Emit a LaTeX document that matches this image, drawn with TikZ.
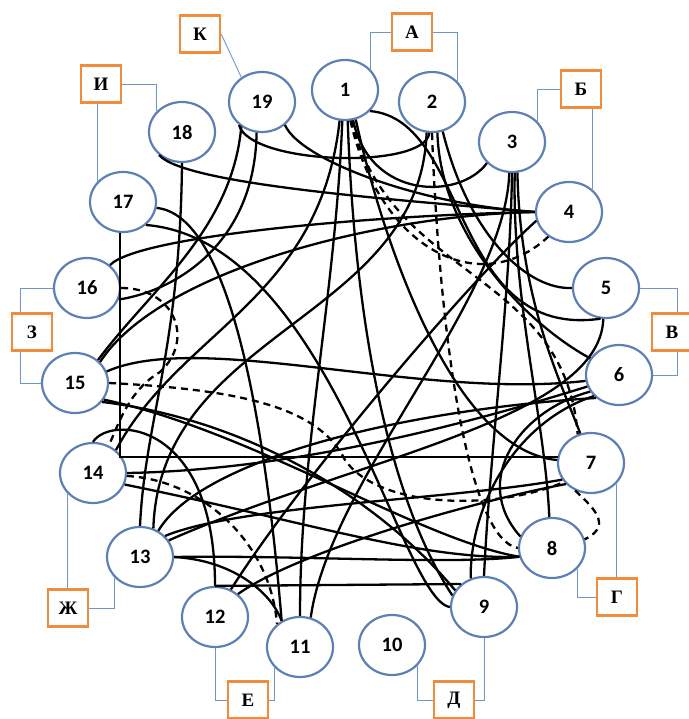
\documentclass[tikz,border=0pt]{standalone}
\usepackage{fontspec}
\setmainfont{Liberation Serif}
\newfontfamily\numfont{Carlito}
\usetikzlibrary{shapes.geometric}
\definecolor{ringblue}{RGB}{92,128,180}
\definecolor{tieblue}{RGB}{110,150,200}
\definecolor{boxorange}{RGB}{240,140,60}
\begin{document}
\begin{tikzpicture}[x=1pt,y=1pt,
        vert/.style={ellipse,draw=ringblue,line width=2.2pt,fill=white,minimum width=66pt,minimum height=60pt,inner sep=0pt,font=\numfont\bfseries\fontsize{20.5}{20.5}\selectfont},
        letter/.style={draw=boxorange,line width=2.4pt,fill=white,minimum width=40pt,minimum height=37pt,inner sep=0pt,font=\bfseries\fontsize{19}{19}\selectfont},
        tie/.style={draw=tieblue,line width=0.9pt},
        link/.style={line width=2.3pt},
        dlink/.style={line width=2.3pt,dash pattern=on 7pt off 5pt}]
                \useasboundingbox (0,0) rectangle (688,-719);
                \node[vert] (v1) at (345,-90) {1};
                \node[vert] (v2) at (432,-102) {2};
                \node[vert] (v3) at (512,-142) {3};
                \node[vert] (v4) at (569,-212) {4};
                \node[vert] (v5) at (606,-288) {5};
                \node[vert] (v6) at (619,-375) {6};
                \node[vert] (v7) at (591,-463) {7};
                \node[vert] (v8) at (552,-548) {8};
                \node[vert] (v9) at (484,-607) {9};
                \node[vert] (v10) at (392,-645) {10};
                \node[vert] (v11) at (300,-647) {11};
                \node[vert] (v12) at (215,-617) {12};
                \node[vert] (v13) at (140,-557) {13};
                \node[vert] (v14) at (93,-473) {14};
                \node[vert] (v15) at (75,-383) {15};
                \node[vert] (v16) at (87,-288) {16};
                \node[vert] (v17) at (123,-202) {17};
                \node[vert] (v18) at (182,-132) {18};
                \node[vert] (v19) at (262,-102) {19};
                \node[letter] (bK) at (200,-34) {К};
                \node[letter] (bI) at (101,-84) {И};
                \node[letter] (bA) at (412,-32) {А};
                \node[letter] (bB) at (581,-89) {Б};
                \node[letter] (bV) at (672,-332) {В};
                \node[letter] (bG) at (617,-597) {Г};
                \node[letter] (bD) at (454,-700) {Д};
                \node[letter] (bE) at (248,-700) {Е};
                \node[letter] (bZh) at (68,-608) {Ж};
                \node[letter] (bZ) at (32,-332) {З};
                \draw[tie] (bK.east) -- (v19.130);
                \draw[tie] (bI.east) -| (v18.140);
                \draw[tie] (v17.140) -- (v17.140 |- bI.south);
                \draw[tie] (bA.west) -| (v1.40);
                \draw[tie] (bA.east) -| (v2.40);
                \draw[tie] (bB.west) -| (v3.40);
                \draw[tie] (v4.45) -- (v4.45 |- bB.south);
                \draw[tie] (v5.east) -| ([xshift=5pt]bV.north);
                \draw[tie] ([xshift=5pt]bV.south) |- (v6.east);
                \draw[tie] (v7.-40) -- (v7.-40 |- bG.north);
                \draw[tie] (v8.-40) |- (bG.west);
                \draw[tie] (v10.-40) |- (bD.west);
                \draw[tie] (v9.south) |- (bD.east);
                \draw[tie] (v12.south) |- (bE.west);
                \draw[tie] (v11.-140) |- (bE.east);
                \draw[tie] (v14.-140) -- (v14.-140 |- bZh.north);
                \draw[tie] (v13.-140) |- (bZh.east);
                \draw[tie] (v16.west) -| ([xshift=-12pt]bZ.north);
                \draw[tie] ([xshift=-12pt]bZ.south) |- (v15.west);
                \draw[link] (v19.-135) .. controls (250,-165) and (425,-170) .. (v2.-95);
                \draw[link] (v19.-45) .. controls (300,-160) and (420,-205) .. (v4.west);
                \draw[link] (v19.-130) .. controls (232,-230) and (150,-290) .. (v15.45);
                \draw[link] (v19.-100) .. controls (255,-240) and (180,-290) .. (v16.-20);
                \draw[link] (v18.-135) .. controls (185,-185) and (400,-200) .. (v4.west);
                \draw[link] (v18.south) .. controls (180,-350) and (145,-420) .. (v13.north);
                \draw[link] (v17.-95) |- (v7.170);
                \draw[link] (v17.-10) .. controls (230,-215) and (265,-420) .. (v11.125);
                \draw[link] (v17.-45) .. controls (330,-240) and (400,-600) .. (v9.west);
                \draw[link] (v16.45) .. controls (140,-235) and (380,-215) .. (v4.west);
                \draw[link] (v4.west) .. controls (380,-215) and (160,-270) .. (v15.40);
                \draw[link] (v15.20) .. controls (200,-330) and (420,-400) .. (v6.190);
                \draw[link] (v15.-30) .. controls (250,-430) and (420,-540) .. (v8.-165);
                \draw[link] (v14.north) .. controls (110,-415) and (215,-420) .. (v12.north);
                \draw[link] (v12.north) -- (v9.135);
                \draw[link] (v14.east) .. controls (300,-470) and (480,-420) .. (v6.-160);
                \draw[link] (v14.-20) .. controls (300,-520) and (420,-560) .. (v8.-165);
                \draw[link] (v13.east) .. controls (230,-560) and (270,-590) .. (v11.125);
                \draw[link] (v13.east) .. controls (300,-555) and (450,-565) .. (v8.-165);
                \draw[link] (v13.55) .. controls (200,-460) and (400,-410) .. (v6.-135);
                \draw[link] (v13.40) .. controls (240,-505) and (450,-500) .. (v7.-150);
                \draw[link] (v13.65) .. controls (160,-330) and (420,-320) .. (v2.-100);
                \draw[link] (v12.45) .. controls (300,-550) and (480,-500) .. (v7.-140);
                \draw[link] (v3.south) .. controls (510,-300) and (490,-450) .. (v9.north);
                \draw[link] (v3.-85) .. controls (512,-300) and (545,-420) .. (v8.95);
                \draw[link] (v3.-95) .. controls (505,-300) and (330,-480) .. (v11.70);
                \draw[link] (v3.-140) .. controls (460,-200) and (370,-200) .. (v1.-75);
                \draw[link] (v3.-80) .. controls (520,-300) and (560,-380) .. (v7.110);
                \draw[link] (v9.115) .. controls (470,-500) and (520,-420) .. (v6.-140);
                \draw[link] (v9.150) .. controls (380,-500) and (250,-420) .. (v15.-35);
                \draw[link] (v2.-70) .. controls (470,-240) and (530,-290) .. (v5.west);
                \draw[link] (v2.-80) .. controls (440,-230) and (520,-320) .. (v6.150);
                \draw[link] (v1.-40) .. controls (470,-120) and (450,-340) .. (v5.-100);
                \draw[link] (v1.-95) .. controls (335,-300) and (300,-450) .. (v11.north);
                \draw[link] (v1.-85) .. controls (355,-330) and (390,-500) .. (v9.160);
                \draw[link] (v1.-70) .. controls (380,-230) and (450,-450) .. (v7.175);
                \draw[link] (v1.-100) .. controls (320,-300) and (180,-330) .. (v14.45);
                \draw[link] (v5.-95) .. controls (600,-420) and (350,-460) .. (v13.30);
                \draw[link] (v8.160) .. controls (470,-480) and (520,-410) .. (v6.-150);
                \draw[link] (v4.-165) .. controls (470,-280) and (300,-480) .. (v12.60);
                \draw[dlink] (v1.-80) .. controls (380,-250) and (480,-300) .. (v4.-130);
                \draw[dlink] (v1.-78) .. controls (390,-280) and (565,-270) .. (v7.115);
                \draw[dlink] (v2.-90) .. controls (440,-350) and (470,-540) .. (v8.west);
                \draw[dlink] (v15.east) .. controls (250,-390) and (320,-410) .. (345,-460) .. controls (380,-510) and (500,-510) .. (v7.-145);
                \draw[dlink] (v16.east) .. controls (175,-288) and (195,-340) .. (160,-372) .. controls (130,-390) and (120,-420) .. (v14.60);
                \draw[dlink] (v14.-5) .. controls (200,-480) and (270,-540) .. (v11.135);
                \draw[dlink] (v7.-120) .. controls (590,-505) and (615,-525) .. (v8.15);
            \end{tikzpicture}
\end{document}
